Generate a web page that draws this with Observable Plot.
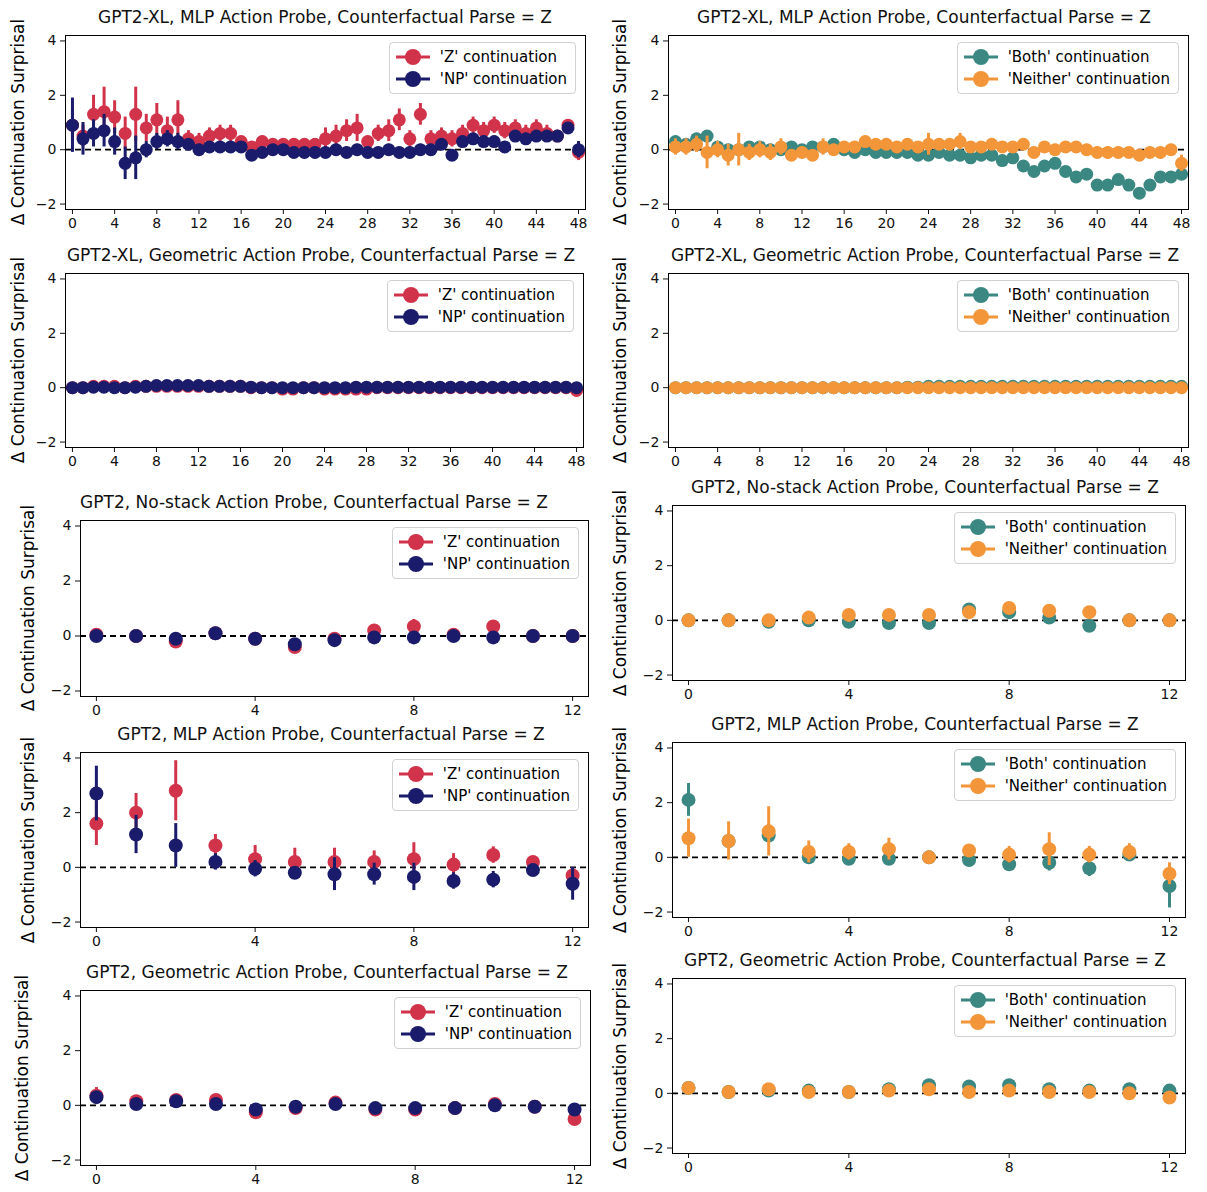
<!DOCTYPE html><html><head><meta charset="utf-8">
<script src="https://cdn.jsdelivr.net/npm/d3@7"></script>
<script src="https://cdn.jsdelivr.net/npm/@observablehq/plot@0.6"></script>
<style>body{margin:0;background:#fff;font-family:"DejaVu Sans",sans-serif}#c{position:relative;width:1207px;height:1192px}
.t{position:absolute;font-size:17px;text-align:center;white-space:nowrap;color:#111}
.yl{position:absolute;font-size:17px;transform:rotate(-90deg);transform-origin:center;white-space:nowrap;width:240px;text-align:center}
.lg{position:absolute;border:1px solid #d0d0d0;border-radius:4px;background:#fff;font-size:15px;padding:3px 8px 3px 6px;line-height:22px}
.lg div{display:flex;align-items:center;gap:10px}
svg.p{position:absolute}</style></head><body><div id="c"></div><script>
const RED="#d1334a",NAVY="#1a1c6b",TEAL="#3b8781",ORANGE="#f3963a";
// GPT2-XL MLP
const xlMlpZ=[0.9,0.5,1.3,1.4,1.2,0.6,1.3,0.8,1.1,0.7,1.1,0.4,0.3,0.5,0.6,0.6,0.3,0.1,0.3,0.2,0.2,0.2,0.2,0.2,0.4,0.5,0.7,0.8,0.3,0.6,0.7,1.1,0.4,1.3,0.4,0.5,0.4,0.6,0.9,0.7,0.9,0.7,0.8,0.6,0.8,0.6,0.5,0.9,-0.1];
const xlMlpZe=[0.6,0.4,0.7,0.9,0.6,0.6,1.0,0.5,0.6,0.5,0.7,0.3,0.3,0.3,0.3,0.3,0.2,0.2,0.2,0.2,0.2,0.2,0.2,0.2,0.4,0.4,0.4,0.5,0.2,0.3,0.4,0.4,0.3,0.4,0.3,0.3,0.3,0.3,0.3,0.3,0.3,0.3,0.3,0.3,0.3,0.3,0.2,0.2,0.3];
const xlMlpNP=[0.9,0.4,0.6,0.7,0.3,-0.5,-0.3,0,0.3,0.4,0.3,0.2,0,0.1,0.1,0.1,0.1,-0.2,-0.1,0,0,-0.1,-0.1,-0.1,-0.1,0,-0.1,0,-0.1,-0.1,0,-0.1,-0.1,0,0,0.2,-0.2,0.3,0.4,0.3,0.3,0.1,0.5,0.4,0.5,0.5,0.5,0.8,0];
const xlMlpNPe=[1.0,0.6,0.5,0.6,0.5,0.6,0.8,0.3,0.3,0.3,0.3,0.2,0.2,0.2,0.2,0.2,0.2,0.2,0.2,0.2,0.2,0.2,0.2,0.2,0.2,0.2,0.2,0.2,0.2,0.2,0.2,0.2,0.2,0.2,0.2,0.2,0.2,0.2,0.2,0.2,0.2,0.2,0.2,0.2,0.2,0.2,0.2,0.2,0.3];
const xlMlpBoth=[0.3,0.2,0.4,0.5,0.1,0,0,0.1,0.1,0,0,0.1,0,0.1,0.1,0.2,0,-0.1,0,-0.1,-0.1,-0.1,-0.1,-0.2,-0.2,-0.1,-0.2,-0.2,-0.3,-0.2,-0.2,-0.4,-0.3,-0.6,-0.8,-0.6,-0.5,-0.8,-1.0,-0.9,-1.3,-1.3,-1.1,-1.3,-1.6,-1.3,-1.0,-1.0,-0.9];
const xlMlpNeither=[0.1,0.1,0.2,-0.1,0,-0.2,0,-0.1,0,-0.1,0.1,-0.2,-0.1,-0.2,0.1,0,0.1,0.1,0.3,0.2,0.2,0.1,0.2,0.1,0.2,0.2,0.2,0.3,0.1,0.1,0.2,0.1,0.1,0.2,-0.1,0.1,0,0.1,0.1,0,-0.1,-0.1,-0.1,-0.1,-0.2,-0.1,-0.1,0,-0.5];
const xlMlpNeitherE=[0.3,0.3,0.3,0.6,0.3,0.4,0.6,0.3,0.3,0.3,0.3,0.2,0.2,0.2,0.3,0.2,0.2,0.2,0.2,0.2,0.2,0.2,0.2,0.2,0.4,0.2,0.2,0.3,0.2,0.2,0.2,0.2,0.2,0.2,0.2,0.2,0.2,0.2,0.2,0.2,0.2,0.2,0.2,0.2,0.2,0.2,0.2,0.2,0.3];
// GPT2-XL Geometric
const xlGeoZ=[0,0,0.05,0.05,0.05,0,0.05,0.05,0.05,0.05,0.05,0.05,0.05,0.05,0.05,0.05,0.05,0,0,0,-0.05,-0.05,0,0,-0.05,-0.05,-0.05,-0.05,-0.05,0,0,0,0,0,0,0,0,0,0,0,0,0,0,0,0,0,0,0,-0.1];
const xlGeoNP=[0,0,0.02,0.02,0,0,0.02,0.05,0.08,0.08,0.08,0.08,0.08,0.05,0.05,0.05,0.05,0.02,0,0,0,0,0,0,0,0,0,0.02,0.02,0.02,0.02,0.02,0.02,0.02,0.02,0.02,0.02,0.02,0.02,0.02,0.02,0.02,0.02,0.02,0.02,0.02,0.02,0.02,0];
const xlGeoBoth=[0,0,0,0,0,0,0,0,0,0,0,0,0,0,0,0,0,0,0,0,0,0,0.02,0.02,0.05,0.05,0.05,0.05,0.05,0.05,0.05,0.05,0.05,0.05,0.05,0.05,0.05,0.05,0.05,0.05,0.05,0.05,0.05,0.05,0.05,0.05,0.05,0.05,0.05];
const xlGeoNeither=[0,0,0,0,0,0,0,0,0,0,0,0,0,0,0,0,0,0,0,0,0,0,0,0,0,0,0,0,0,0,0,0,0,0,0,0,0,0,0,0,0,0,0,0,0,0,0,0,0];
// GPT2 panels (layers 0-12)
const nsZ=[0.05,0,-0.2,0.1,-0.1,-0.4,-0.1,0.2,0.35,0.05,0.35,0,0], nsZe=[0.1,0.1,0.2,0.1,0.1,0.2,0.1,0.1,0.25,0.1,0.1,0.05,0.05];
const nsNP=[0,0,-0.1,0.1,-0.1,-0.3,-0.15,-0.05,-0.05,0,-0.05,0,0];
const nsBoth=[0,0,-0.05,0,-0.05,-0.1,-0.1,0.4,0.3,0.1,-0.2,0,0];
const nsNeither=[0,0,0,0.1,0.2,0.2,0.2,0.3,0.45,0.35,0.3,0,0];
const mlpZ=[1.6,2.0,2.8,0.8,0.3,0.2,0.2,0.2,0.3,0.1,0.45,0.2,-0.3], mlpZe=[0.8,0.7,1.1,0.4,0.5,0.5,0.5,0.4,0.6,0.4,0.3,0.2,0.3];
const mlpNP=[2.7,1.2,0.8,0.2,-0.05,-0.2,-0.25,-0.25,-0.35,-0.5,-0.45,-0.1,-0.6], mlpNPe=[1.0,0.7,0.8,0.3,0.3,0.2,0.6,0.4,0.5,0.3,0.3,0.1,0.6];
const mlpBoth=[2.1,0.6,0.8,0,-0.05,-0.05,0,-0.1,-0.25,-0.2,-0.4,0.1,-1.05], mlpBothE=[0.6,0.2,0.2,0.1,0.1,0.1,0.1,0.1,0.2,0.3,0.3,0.2,0.8];
const mlpNeither=[0.7,0.6,0.95,0.2,0.2,0.3,0,0.25,0.1,0.3,0.1,0.2,-0.6], mlpNeitherE=[0.7,0.7,0.9,0.4,0.3,0.4,0.2,0.2,0.3,0.6,0.3,0.3,0.4];
const geoZ=[0.35,0.15,0.2,0.2,-0.25,-0.1,0.1,-0.15,-0.15,-0.1,0.05,-0.05,-0.5], geoZe=[0.3,0.1,0.1,0.1,0.1,0.1,0.1,0.1,0.1,0.1,0.1,0.1,0.2];
const geoNP=[0.3,0.05,0.15,0.05,-0.15,-0.05,0.05,-0.1,-0.1,-0.1,0,-0.05,-0.15];
const geoBoth=[0.2,0.05,0.1,0.1,0.05,0.15,0.3,0.25,0.3,0.15,0.1,0.15,0.1];
const geoNeither=[0.2,0.05,0.15,0.05,0.05,0.1,0.15,0.05,0.1,0.05,0.05,0,-0.15];
const xlTicks=d3.range(0,49,4), gTicks=[0,4,8,12], yTicks=[-2,0,2,4];
const ZNP=[["'Z' continuation",RED],["'NP' continuation",NAVY]];
const BN=[["'Both' continuation",TEAL],["'Neither' continuation",ORANGE]];
const c=document.getElementById("c");
function ser(m,e,def,col){return {col,d:m.map((v,i)=>({x:i,y:v,e:e?e[i]:def}))};}
function panel(o){
  const fw=o.fx2-o.fx1, fh=o.fy2-o.fy1, ml=40, mb=28;
  const xl=o.n===48;
  const marks=[Plot.ruleY([0],{stroke:"#000",strokeWidth:1.8,strokeDasharray:"6,4"})];
  for(const s of o.series){
    marks.push(Plot.ruleX(s.d,{x:"x",y1:d=>d.y-d.e,y2:d=>d.y+d.e,stroke:s.col,strokeWidth:3}));
    marks.push(Plot.dot(s.d,{x:"x",y:"y",r:xl?6.5:7,fill:s.col}));
  }
  marks.push(Plot.frame({stroke:"#000",strokeWidth:1}));
  const pad=xl?0.66:0.4;
  const svg=Plot.plot({width:fw+ml+2,height:fh+mb+2,marginLeft:ml,marginRight:2,marginTop:2,marginBottom:mb,
    style:{fontSize:"14px",fontFamily:"DejaVu Sans",color:"#111",background:"transparent"},
    x:{domain:[-pad,o.n+pad],ticks:xl?xlTicks:gTicks,tickFormat:d=>String(d).replace("-","−"),label:null,tickSize:5},
    y:{domain:[-2.2,4.2],ticks:yTicks,tickFormat:d=>String(d).replace("-","−"),label:null,tickSize:5},marks});
  svg.classList.add("p");svg.style.left=(o.fx1-ml)+"px";svg.style.top=(o.fy1-2)+"px";c.appendChild(svg);
  const t=document.createElement("div");t.className="t";t.textContent=o.title;
  t.style.left=(o.tx)+"px";t.style.top=(o.fy1-28)+"px";t.style.width="0";t.style.display="flex";t.style.justifyContent="center";c.appendChild(t);
  const y=document.createElement("div");y.className="yl";y.textContent="Δ Continuation Surprisal";
  y.style.left=(o.ylx-120)+"px";y.style.top=((o.fy1+o.fy2)/2-10)+"px";c.appendChild(y);
  const lg=document.createElement("div");lg.className="lg";
  for(const [lab,col] of o.leg){const r=document.createElement("div");
    r.innerHTML=`<svg width="34" height="18"><line x1="0" x2="34" y1="9" y2="9" stroke="${col}" stroke-width="3"/><circle cx="17" cy="9" r="8" fill="${col}"/></svg><span>${lab}</span>`;lg.appendChild(r);}
  lg.style.right=(1207-o.fx2+9)+"px";lg.style.top=(o.fy1+7)+"px";c.appendChild(lg);
}
panel({title:"GPT2-XL, MLP Action Probe, Counterfactual Parse = Z",n:48,fx1:65,fx2:585,fy1:35,fy2:209,tx:325,ylx:18,leg:ZNP,series:[ser(xlMlpZ,xlMlpZe,0,RED),ser(xlMlpNP,xlMlpNPe,0,NAVY)]});
panel({title:"GPT2-XL, MLP Action Probe, Counterfactual Parse = Z",n:48,fx1:668,fx2:1188,fy1:35,fy2:209,tx:924,ylx:620,leg:BN,series:[ser(xlMlpBoth,null,0.15,TEAL),ser(xlMlpNeither,xlMlpNeitherE,0,ORANGE)]});
panel({title:"GPT2-XL, Geometric Action Probe, Counterfactual Parse = Z",n:48,fx1:65,fx2:583,fy1:273,fy2:447,tx:321,ylx:18,leg:ZNP,series:[ser(xlGeoZ,null,0.05,RED),ser(xlGeoNP,null,0.05,NAVY)]});
panel({title:"GPT2-XL, Geometric Action Probe, Counterfactual Parse = Z",n:48,fx1:668,fx2:1188,fy1:273,fy2:447,tx:925,ylx:620,leg:BN,series:[ser(xlGeoBoth,null,0.05,TEAL),ser(xlGeoNeither,null,0.05,ORANGE)]});
panel({title:"GPT2, No-stack Action Probe, Counterfactual Parse = Z",n:12,fx1:80,fx2:588,fy1:520,fy2:696,tx:314,ylx:28,leg:ZNP,series:[ser(nsZ,nsZe,0,RED),ser(nsNP,null,0.1,NAVY)]});
panel({title:"GPT2, No-stack Action Probe, Counterfactual Parse = Z",n:12,fx1:672,fx2:1185,fy1:505,fy2:680,tx:925,ylx:620,leg:BN,series:[ser(nsBoth,null,0.1,TEAL),ser(nsNeither,null,0.1,ORANGE)]});
panel({title:"GPT2, MLP Action Probe, Counterfactual Parse = Z",n:12,fx1:80,fx2:588,fy1:752,fy2:927,tx:331,ylx:28,leg:ZNP,series:[ser(mlpZ,mlpZe,0,RED),ser(mlpNP,mlpNPe,0,NAVY)]});
panel({title:"GPT2, MLP Action Probe, Counterfactual Parse = Z",n:12,fx1:672,fx2:1185,fy1:742,fy2:917,tx:925,ylx:620,leg:BN,series:[ser(mlpBoth,mlpBothE,0,TEAL),ser(mlpNeither,mlpNeitherE,0,ORANGE)]});
panel({title:"GPT2, Geometric Action Probe, Counterfactual Parse = Z",n:12,fx1:80,fx2:590,fy1:990,fy2:1165,tx:327,ylx:22,leg:ZNP,series:[ser(geoZ,geoZe,0,RED),ser(geoNP,null,0.1,NAVY)]});
panel({title:"GPT2, Geometric Action Probe, Counterfactual Parse = Z",n:12,fx1:672,fx2:1185,fy1:978,fy2:1153,tx:925,ylx:620,leg:BN,series:[ser(geoBoth,null,0.08,TEAL),ser(geoNeither,null,0.08,ORANGE)]});
</script></body></html>
